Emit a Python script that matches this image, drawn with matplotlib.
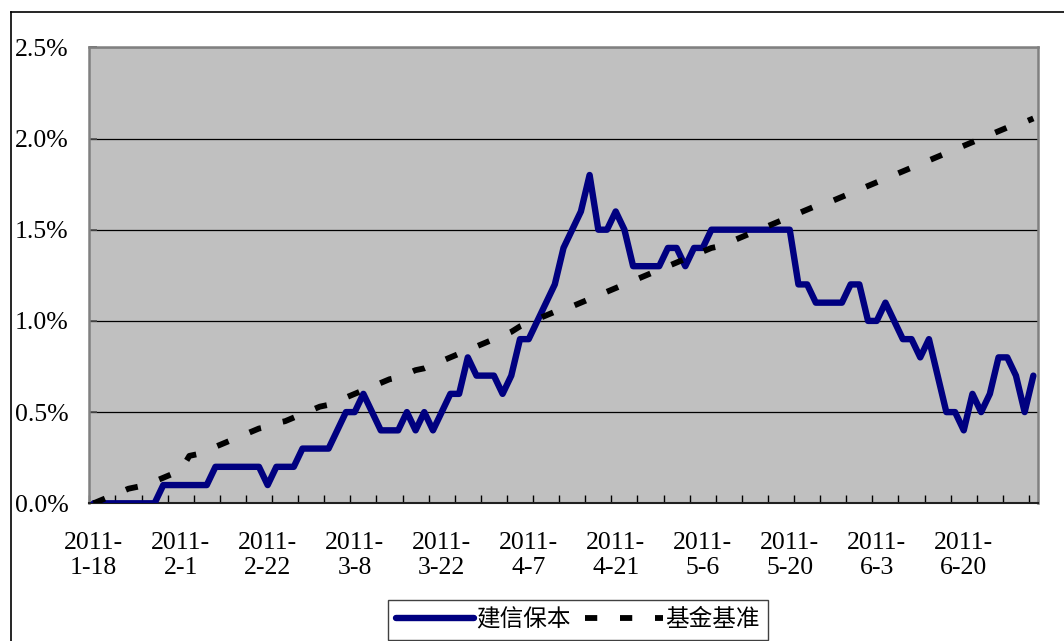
import matplotlib
matplotlib.use('Agg')
import matplotlib.pyplot as plt
from matplotlib.lines import Line2D
from matplotlib.ticker import FixedLocator, FuncFormatter, NullFormatter
import numpy as np

# ---- data -------------------------------------------------------------
dates = [
    "2011-1-18", "2011-1-19", "2011-1-20", "2011-1-21", "2011-1-24", "2011-1-25",
    "2011-1-26", "2011-1-27", "2011-1-28", "2011-1-31",
    "2011-2-1", "2011-2-9", "2011-2-10", "2011-2-11", "2011-2-14", "2011-2-15",
    "2011-2-16", "2011-2-17", "2011-2-18", "2011-2-21", "2011-2-22", "2011-2-23",
    "2011-2-24", "2011-2-25", "2011-2-28",
    "2011-3-1", "2011-3-2", "2011-3-3", "2011-3-4", "2011-3-7", "2011-3-8",
    "2011-3-9", "2011-3-10", "2011-3-11", "2011-3-14", "2011-3-15", "2011-3-16",
    "2011-3-17", "2011-3-18", "2011-3-21", "2011-3-22", "2011-3-23", "2011-3-24",
    "2011-3-25", "2011-3-28", "2011-3-29", "2011-3-30", "2011-3-31",
    "2011-4-1", "2011-4-6", "2011-4-7", "2011-4-8", "2011-4-11", "2011-4-12",
    "2011-4-13", "2011-4-14", "2011-4-15", "2011-4-18", "2011-4-19", "2011-4-20",
    "2011-4-21", "2011-4-22", "2011-4-25", "2011-4-26", "2011-4-27", "2011-4-28",
    "2011-4-29",
    "2011-5-3", "2011-5-4", "2011-5-5", "2011-5-6", "2011-5-9", "2011-5-10",
    "2011-5-11", "2011-5-12", "2011-5-13", "2011-5-16", "2011-5-17", "2011-5-18",
    "2011-5-19", "2011-5-20", "2011-5-23", "2011-5-24", "2011-5-25", "2011-5-26",
    "2011-5-27", "2011-5-30", "2011-5-31",
    "2011-6-1", "2011-6-2", "2011-6-3", "2011-6-7", "2011-6-8", "2011-6-9",
    "2011-6-10", "2011-6-13", "2011-6-14", "2011-6-15", "2011-6-16", "2011-6-17",
    "2011-6-20", "2011-6-21", "2011-6-22", "2011-6-23", "2011-6-24", "2011-6-27",
    "2011-6-28", "2011-6-29", "2011-6-30",
]

# 建信保本 (%)
fund = [
    0.0, 0.0, 0.0, 0.0, 0.0, 0.0, 0.0, 0.0,
    0.1, 0.1, 0.1, 0.1, 0.1, 0.1,
    0.2, 0.2, 0.2, 0.2, 0.2, 0.2,
    0.1,
    0.2, 0.2, 0.2,
    0.3, 0.3, 0.3, 0.3,
    0.4, 0.5, 0.5, 0.6, 0.5, 0.4, 0.4, 0.4, 0.5, 0.4, 0.5, 0.4,
    0.5, 0.6, 0.6, 0.8, 0.7, 0.7, 0.7, 0.6, 0.7, 0.9,
    0.9, 1.0, 1.1, 1.2, 1.4, 1.5, 1.6, 1.8, 1.5, 1.5,
    1.6, 1.5, 1.3, 1.3, 1.3, 1.3, 1.4, 1.4, 1.3, 1.4,
    1.4, 1.5, 1.5, 1.5, 1.5, 1.5, 1.5, 1.5, 1.5, 1.5,
    1.5, 1.2, 1.2, 1.1, 1.1, 1.1, 1.1, 1.2, 1.2, 1.0,
    1.0, 1.1, 1.0, 0.9, 0.9, 0.8, 0.9, 0.7, 0.5, 0.5,
    0.4, 0.6, 0.5, 0.6, 0.8, 0.8, 0.7, 0.5, 0.7,
]

# 基金基准 (%)
bench = [
    0.00, 0.02, 0.04, 0.06, 0.08, 0.09, 0.10, 0.12, 0.14, 0.16,
    0.18, 0.26, 0.27, 0.29, 0.31, 0.33, 0.35, 0.37, 0.39, 0.41,
    0.42, 0.44, 0.45, 0.47, 0.49, 0.51, 0.53, 0.54, 0.56, 0.58,
    0.60, 0.62, 0.64, 0.66, 0.68, 0.69, 0.71, 0.73, 0.74, 0.76,
    0.78, 0.80, 0.82, 0.84, 0.86, 0.88, 0.90, 0.92, 0.94, 0.97,
    0.99, 1.01, 1.03, 1.05, 1.06, 1.08, 1.10, 1.12, 1.14, 1.16,
    1.18, 1.20, 1.22, 1.24, 1.26, 1.28, 1.30, 1.32, 1.34, 1.36,
    1.38, 1.40, 1.41, 1.43, 1.45, 1.47, 1.49, 1.51, 1.53, 1.55,
    1.57, 1.59, 1.61, 1.63, 1.64, 1.66, 1.68, 1.70, 1.72, 1.74,
    1.76, 1.78, 1.80, 1.82, 1.84, 1.86, 1.88, 1.90, 1.92, 1.94,
    1.96, 1.98, 2.00, 2.02, 2.04, 2.06, 2.07, 2.09, 2.11,
]

series_names = ["建信保本", "基金基准"]
y_ticks = [0.0, 0.5, 1.0, 1.5, 2.0, 2.5]
label_every = 10
tick_every = 3

# ---- figure ----------------------------------------------------------
W, H = 1064, 641
fig = plt.figure(figsize=(W / 100, H / 100), dpi=100)
fig.patch.set_facecolor('white')

ax_l, ax_r, ax_t, ax_b = 89.3, 1037.7, 47.3, 503.3
ax = fig.add_axes([ax_l / W, 1 - ax_b / H, (ax_r - ax_l) / W, (ax_b - ax_t) / H])
ax.set_facecolor('#C0C0C0')

x = np.arange(len(dates))
ax.plot(x, fund, color='#000080', lw=4.6, solid_joinstyle='round',
        solid_capstyle='round', zorder=3)
ax.plot(x, bench, color='black', lw=4.2, dashes=(2.1, 3.9),
        dash_capstyle='butt', zorder=4)

ax.set_xlim(-0.5, len(dates) - 0.5)
ax.set_ylim(0, 2.5)

tick_font = ['Liberation Serif', 'DejaVu Serif']
fs = 18.5

# y axis
ax.yaxis.set_major_locator(FixedLocator(y_ticks))
ax.yaxis.set_major_formatter(FuncFormatter(lambda v, p: f"{v:.1f}%"))
ax.grid(axis='y', color='black', lw=0.9, zorder=1)
ax.set_axisbelow(True)
ax.tick_params(axis='y', direction='in', length=6, width=1.2, color='#505050',
               pad=15, labelsize=fs)

# x axis: ticks between categories every 3, labels every 10
tick_pos = [k - 0.5 for k in range(0, len(dates) + 1, tick_every)]
ax.xaxis.set_major_locator(FixedLocator(tick_pos))
ax.xaxis.set_major_formatter(NullFormatter())
ax.tick_params(axis='x', direction='in', length=6, width=1.0, color='black')
ax.xaxis.set_minor_locator(FixedLocator(list(range(0, len(dates), label_every))))
minor_labels = [dates[i].replace("2011-", "2011-\n", 1)
                for i in range(0, len(dates), label_every)]
ax.set_xticklabels(minor_labels, minor=True)
ax.tick_params(axis='x', which='minor', length=0, pad=21, labelsize=fs)
for lab in ax.get_xticklabels(minor=True):
    lab.set_linespacing(1.12)

for lab in ax.get_yticklabels() + ax.get_xticklabels(minor=True):
    lab.set_fontfamily(tick_font)
    lab.set_color('black')

for side in ['top', 'right', 'left']:
    ax.spines[side].set_color('#808080')
    ax.spines[side].set_linewidth(1.8)
ax.spines['bottom'].set_color('#202020')
ax.spines['bottom'].set_linewidth(1.5)

# outer chart-area frame
fig.add_artist(Line2D([11 / W, 11 / W], [0, 1 - 12 / H], transform=fig.transFigure,
                      color='black', lw=1.2))
fig.add_artist(Line2D([11 / W, 1], [1 - 12 / H, 1 - 12 / H], transform=fig.transFigure,
                      color='black', lw=1.2))

# legend
handles = [
    Line2D([], [], color='#000080', lw=4.6, solid_capstyle='round'),
    Line2D([], [], color='black', lw=4.2, dashes=(2.1, 3.9), dash_capstyle='butt'),
]
leg = fig.legend(handles, series_names, loc='upper center',
                 bbox_to_anchor=(578 / W, 1 - 600 / H), bbox_transform=fig.transFigure,
                 ncol=2, frameon=True, fancybox=False, framealpha=1,
                 edgecolor='#404040', borderaxespad=0, borderpad=0.35,
                 handlelength=3.3, handletextpad=0.1, columnspacing=0.6,
                 prop={'family': ['Noto Sans CJK SC', 'DejaVu Sans'], 'size': 17})
leg.get_frame().set_linewidth(1.0)

fig.savefig('out.png', dpi=100, facecolor='white')
